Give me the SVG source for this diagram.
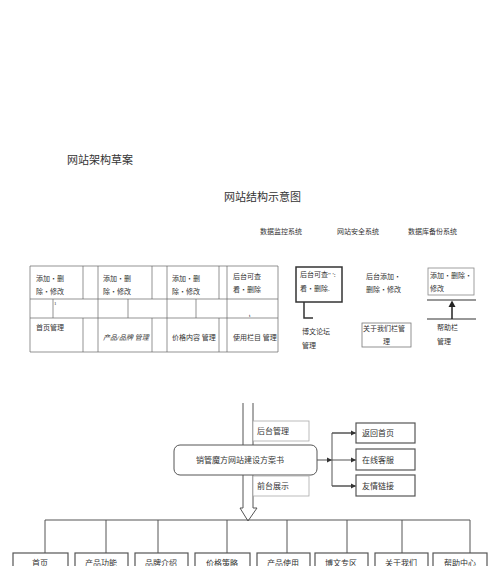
<svg xmlns="http://www.w3.org/2000/svg" width="500" height="566" viewBox="0 0 500 566">
<defs>
<style>
text{font-family:"Liberation Serif","Noto Sans CJK SC",serif;fill:#333}
.t11{font-size:11px}
.t7{font-size:7px}
.t8{font-size:8px}
.grid line{stroke:#666;stroke-width:0.7}
.box{fill:#fff;stroke:#555;stroke-width:1.2}
.lbox{fill:#fff;stroke:#aaa;stroke-width:0.8}
.ln{stroke:#555;stroke-width:1;fill:none}
</style>
<marker id="ah" markerWidth="6" markerHeight="6" refX="5" refY="3" orient="auto" markerUnits="userSpaceOnUse">
<path d="M0,0.5 L5,3 L0,5.5z" fill="#333"/>
</marker>
</defs>
<rect width="500" height="566" fill="#fff"/>

<g id="titles">
<text class="t11" x="67" y="164">网站架构草案</text>
<text class="t11" x="224" y="201">网站结构示意图</text>
<text class="t7" x="260" y="234">数据监控系统</text>
<text class="t7" x="337" y="234">网站安全系统</text>
<text class="t7" x="408" y="234">数据库备份系统</text>
</g>

<g id="table">
<g class="grid">
<line x1="30" y1="266" x2="278" y2="266"/>
<line x1="30" y1="299" x2="278" y2="299"/>
<line x1="30" y1="318" x2="278" y2="318"/>
<line x1="30" y1="352" x2="278" y2="352"/>
<line x1="30" y1="266" x2="30" y2="352"/>
<line x1="278" y1="266" x2="278" y2="352"/>
<line x1="83" y1="266" x2="83" y2="299"/>
<line x1="83" y1="318" x2="83" y2="352"/>
<line x1="98" y1="266" x2="98" y2="352"/>
<line x1="152" y1="266" x2="152" y2="299"/>
<line x1="152" y1="318" x2="152" y2="352"/>
<line x1="167" y1="266" x2="167" y2="352"/>
<line x1="219" y1="266" x2="219" y2="299"/>
<line x1="219" y1="318" x2="219" y2="352"/>
<line x1="227" y1="266" x2="227" y2="352"/>
<line x1="53" y1="299" x2="53" y2="318"/>
<line x1="128" y1="299" x2="128" y2="318"/>
<line x1="196" y1="299" x2="196" y2="318"/>
</g>
<text class="t7" x="36" y="281">添加・删</text>
<text class="t7" x="36" y="294">除・修改</text>
<text class="t7" x="103" y="281">添加・删</text>
<text class="t7" x="103" y="294">除・修改</text>
<text class="t7" x="172" y="281">添加・删</text>
<text class="t7" x="172" y="294">除・修改</text>
<text class="t7" x="233" y="279">后台可查</text>
<text class="t7" x="233" y="292">看・删除</text>
<text class="t7" x="54" y="305" style="font-size:5px">1</text>
<text class="t7" x="249" y="317" style="font-size:5px">t</text>
<text class="t7" x="36" y="330">首页管理</text>
<text class="t7" x="103" y="340" font-style="italic">产品/品牌 管理</text>
<text class="t7" x="172" y="340">价格内容 管理</text>
<text class="t7" x="233" y="340">使用栏目 管理</text>
</g>

<g id="forum">
<rect x="296" y="267" width="46" height="35" fill="#fff" stroke="#333" stroke-width="1.5"/>
<text class="t7" x="300" y="277">后台可查"  ':</text>
<text class="t7" x="300" y="291">看・删除.</text>
<path d="M304,302 V318 H313" fill="none" stroke="#333" stroke-width="1.5"/>
<text class="t7" x="302" y="334">博文论坛</text>
<text class="t7" x="302" y="348">管理</text>
</g>

<g id="about">
<text class="t7" x="366" y="279">后台添加・</text>
<text class="t7" x="366" y="292">删除・修改</text>
<rect x="362" y="323" width="49" height="24" fill="#fff" stroke="#777" stroke-width="0.8"/>
<text class="t7" x="363" y="331">关于我们栏管</text>
<text class="t7" x="383" y="344">理</text>
</g>

<g id="help">
<rect x="428" y="268" width="46" height="27" fill="#fff" stroke="#888" stroke-width="0.8"/>
<text class="t7" x="430" y="278">添加・删除・</text>
<text class="t7" x="430" y="291">修改</text>
<line x1="427" y1="300" x2="476" y2="300" stroke="#333" stroke-width="1.2"/>
<line x1="427" y1="319" x2="476" y2="319" stroke="#333" stroke-width="1.2"/>
<line x1="452" y1="319" x2="452" y2="306" stroke="#222" stroke-width="1.5"/>
<path d="M448.5,307 L452,300.5 L455.5,307z" fill="#222"/>
<text class="t7" x="437" y="330">帮助栏</text>
<text class="t7" x="437" y="344">管理</text>
</g>

<g id="connectors">
<line x1="243" y1="403" x2="243" y2="508" class="ln"/>
<line x1="253" y1="403" x2="253" y2="508" class="ln"/>
<path d="M243,508 H240 L248,521 L257,508 H253" fill="#fff" stroke="#555" stroke-width="1"/>
<line x1="317" y1="460" x2="332" y2="460" class="ln" marker-end="url(#ah)"/>
<path d="M355,433 H332 V486 H355" class="ln"/>
<line x1="332" y1="433" x2="356" y2="433" class="ln" marker-end="url(#ah)"/>
<line x1="332" y1="460" x2="356" y2="460" class="ln" marker-end="url(#ah)"/>
<line x1="332" y1="486" x2="356" y2="486" class="ln" marker-end="url(#ah)"/>
<line x1="45" y1="520" x2="470" y2="520" class="ln"/>
<line x1="45" y1="520" x2="45" y2="553" class="ln"/>
<line x1="106" y1="520" x2="106" y2="553" class="ln"/>
<line x1="158" y1="520" x2="158" y2="553" class="ln"/>
<line x1="227" y1="520" x2="227" y2="553" class="ln"/>
<line x1="287" y1="520" x2="287" y2="553" class="ln"/>
<line x1="347" y1="520" x2="347" y2="553" class="ln"/>
<line x1="402" y1="520" x2="402" y2="553" class="ln"/>
<line x1="470" y1="520" x2="470" y2="553" class="ln"/>
</g>

<g id="main">
<rect x="174" y="445" width="143" height="30" rx="6" fill="#fff" stroke="#555" stroke-width="1"/>
<text class="t8" x="240" y="463" text-anchor="middle">销管魔方网站建设方案书</text>
</g>
<g id="backend">
<rect class="lbox" x="253" y="421" width="56" height="20"/>
<text class="t8" x="257" y="434">后台管理</text>
</g>
<g id="frontend">
<rect class="lbox" x="253" y="476" width="56" height="20"/>
<text class="t8" x="257" y="489">前台展示</text>
</g>
<g id="home">
<rect class="box" x="356" y="423" width="59" height="20"/>
<text class="t8" x="362" y="436">返回首页</text>
</g>
<g id="service">
<rect class="box" x="356" y="449" width="59" height="21"/>
<text class="t8" x="362" y="463">在线客服</text>
</g>
<g id="links">
<rect class="box" x="356" y="475" width="59" height="21"/>
<text class="t8" x="362" y="489">友情链接</text>
</g>

<g id="bottom">
<rect class="box" x="13" y="553" width="55" height="20"/>
<text class="t8" x="40" y="566" text-anchor="middle">首页</text>
<rect class="box" x="75" y="553" width="53" height="20"/>
<text class="t8" x="101" y="566" text-anchor="middle">产品功能</text>
<rect class="box" x="135" y="553" width="53" height="20"/>
<text class="t8" x="161" y="566" text-anchor="middle">品牌介绍</text>
<rect class="box" x="195" y="553" width="55" height="20"/>
<text class="t8" x="222" y="566" text-anchor="middle">价格策略</text>
<rect class="box" x="257" y="553" width="53" height="20"/>
<text class="t8" x="283" y="566" text-anchor="middle">产品使用</text>
<rect class="box" x="315" y="553" width="53" height="20"/>
<text class="t8" x="341" y="566" text-anchor="middle">博文专区</text>
<rect class="box" x="375" y="553" width="53" height="20"/>
<text class="t8" x="401" y="566" text-anchor="middle">关于我们</text>
<rect class="box" x="433" y="553" width="54" height="20"/>
<text class="t8" x="460" y="566" text-anchor="middle">帮助中心</text>
</g>
</svg>
